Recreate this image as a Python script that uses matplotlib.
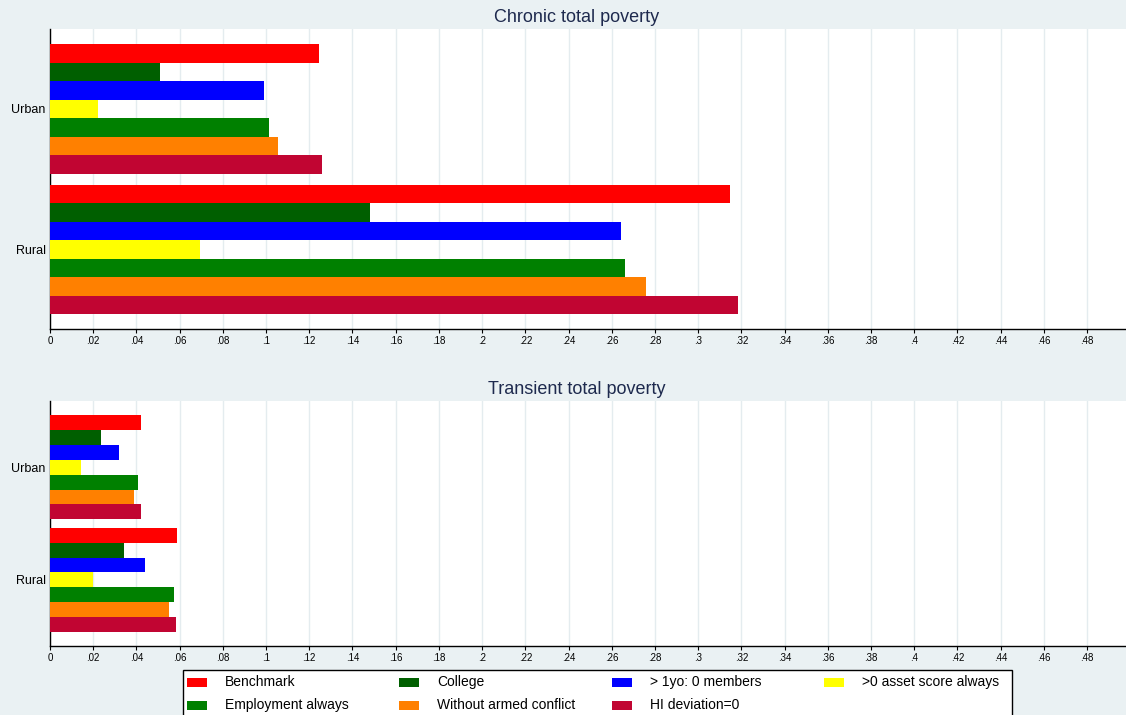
import numpy as np
import matplotlib
matplotlib.use("Agg")
import matplotlib.pyplot as plt
from matplotlib.patches import Rectangle

plt.rcParams['font.family'] = ['Liberation Sans', 'DejaVu Sans']

#===================================================
#                   data
#===================================================
groups = ['Urban', 'Rural']
series = ['Benchmark', 'College', '> 1yo: 0 members', '>0 asset score always',
          'Employment always', 'Without armed conflict', 'HI deviation=0']
colors = ['#FF0000', '#005F00', '#0000FF', '#FFFF00',
          '#008000', '#FF8000', '#C10532']

# chronic total poverty, one list per group, series order as above
chronic_urban = [0.1244, 0.0509, 0.0989, 0.0224, 0.1012, 0.1054, 0.1261]
chronic_rural = [0.3148, 0.1481, 0.2644, 0.0693, 0.2662, 0.2759, 0.3185]

# transient total poverty
transient_urban = [0.0421, 0.0238, 0.0319, 0.0144, 0.0407, 0.0390, 0.0421]
transient_rural = [0.0588, 0.0343, 0.0438, 0.0200, 0.0574, 0.0551, 0.0585]

xticks = np.arange(0, 0.481, 0.02)
xticklabels = ['0'] + [('%.2f' % v).lstrip('0').rstrip('0') for v in xticks[1:]]

bg = '#EAF1F3'
title_col = '#1E2A4E'

#===================================================
#                   plot helpers
#===================================================
def draw_panel(ax, vals_by_group, ylim):
    n = len(series)
    h = 0.1316
    for g, vals in enumerate(vals_by_group):
        for i, v in enumerate(vals):
            y = g - (n - 1) * h / 2 + i * h
            ax.barh(y, v, height=h, color=colors[i], edgecolor='none', zorder=3)
    ax.set_xlim(0, 0.498)
    ax.set_ylim(ylim[1], ylim[0])
    ax.set_yticks(range(len(groups)))
    ax.set_yticklabels(groups, fontsize=9)
    ax.tick_params(axis='y', length=0, pad=3)
    ax.set_xticks(xticks)
    ax.set_xticklabels(xticklabels, fontsize=7)
    ax.tick_params(axis='x', length=3, width=0.8, pad=2, colors='black')
    ax.grid(axis='x', color='#E4ECEF', linewidth=1.0, zorder=0)
    ax.set_facecolor('white')
    for s in ['top', 'right']:
        ax.spines[s].set_visible(False)
    for s in ['left', 'bottom']:
        ax.spines[s].set_color('black')
        ax.spines[s].set_linewidth(1.0)


fig = plt.figure(figsize=(11.26, 7.15), dpi=100, facecolor=bg)

W, H = 1126.0, 715.0
ax1 = fig.add_axes([50 / W, 1 - 329 / H, 1076 / W, 300 / H])
ax2 = fig.add_axes([50 / W, 1 - 646 / H, 1076 / W, 245 / H])

draw_panel(ax1, [chronic_urban, chronic_rural], (-0.569, 1.566))
draw_panel(ax2, [transient_urban, transient_rural], (-0.589, 1.588))

fig.text(577 / W, 1 - 18 / H, 'Chronic total poverty', ha='center', va='center',
         fontsize=13, color=title_col)
fig.text(577 / W, 1 - 390 / H, 'Transient total poverty', ha='center', va='center',
         fontsize=13, color=title_col)

# legend box, Stata style: 4 equal columns, row-wise, cut by the bottom edge
fig.patches.append(Rectangle((183 / W, -0.02), (1012 - 183) / W, 1 - 669.5 / H + 0.02,
                             transform=fig.transFigure, facecolor='white',
                             edgecolor='black', linewidth=1.0))
for i, (lab, c) in enumerate(zip(series, colors)):
    col, row = i % 4, i // 4
    x0 = 187 + col * 212.3
    yc = 682 + row * 23
    fig.patches.append(Rectangle((x0 / W, 1 - (yc + 4.5) / H), 20 / W, 9 / H,
                                 transform=fig.transFigure, facecolor=c,
                                 edgecolor='none'))
    fig.text((x0 + 38) / W, 1 - yc / H, lab, ha='left', va='center',
             fontsize=10, color='black')

fig.savefig('out.png', dpi=100, facecolor=bg)
